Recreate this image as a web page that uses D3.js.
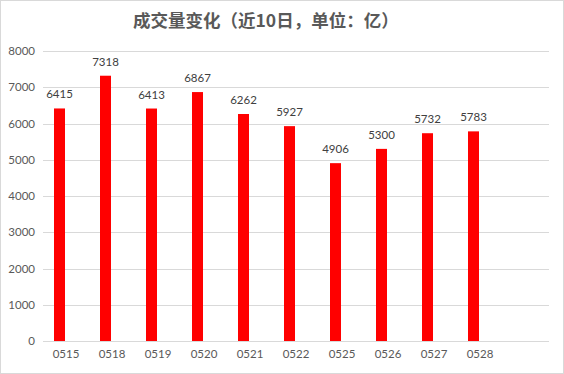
<!DOCTYPE html>
<html><head><meta charset="utf-8">
<script src="https://cdn.jsdelivr.net/npm/d3@7"></script>
<style>body{margin:0;background:#fff}svg{display:block}</style>
</head><body>
<script>
const categories = ["0515","0518","0519","0520","0521","0522","0525","0526","0527","0528"];
const values = [6415,7318,6413,6867,6262,5927,4906,5300,5732,5783];
const yTicks = [0,1000,2000,3000,4000,5000,6000,7000,8000];
const title = "成交量变化（近10日，单位：亿）";

(function(){
const W = 564, H = 374;
const svg = d3.select("body").append("svg").attr("width", W).attr("height", H);
svg.append("rect").attr("x",0.5).attr("y",0.5).attr("width",W-1).attr("height",H-1)
  .attr("fill","#fff").attr("stroke","#d9d9d9");

const pLeft = 43, pRight = 549, pTop = 51, pBottom = 341;
const slots = categories.concat([""]);
const x = d3.scaleBand().domain(slots.map((d,i)=>i)).range([pLeft, pRight]);
const y = d3.scaleLinear().domain([0,8000]).range([pBottom, pTop]);
const barW = 11, barShift = -6.5;
const font = "Lato, 'Liberation Sans', sans-serif";

svg.append("text").attr("x",133).attr("y",27).text(title)
  .attr("font-family","'Noto Sans CJK SC', sans-serif").attr("font-weight","bold")
  .attr("font-size",17.5).attr("fill","#595959");

svg.append("g").selectAll("line").data(yTicks).join("line")
  .attr("x1",pLeft).attr("x2",pRight).attr("y1",d=>Math.round(y(d))+0.5).attr("y2",d=>Math.round(y(d))+0.5)
  .attr("stroke","#d9d9d9").attr("stroke-width",1);

const yAxis = d3.axisLeft(y).tickValues(yTicks).tickFormat(d3.format("d")).tickSize(0).tickPadding(8);
const gy = svg.append("g").attr("transform",`translate(${pLeft},0)`).call(yAxis);
gy.select(".domain").remove();
gy.selectAll("text").attr("font-family",font).attr("font-size",11.5).attr("fill","#595959");

const xAxis = d3.axisBottom(x).tickFormat(i=>slots[i]).tickSize(0).tickPadding(9);
const gx = svg.append("g").attr("transform",`translate(0,${pBottom})`).call(xAxis);
gx.select(".domain").remove();
gx.selectAll("text").attr("font-family",font).attr("font-size",11.5).attr("fill","#595959");

const cx = i => x(i) + x.bandwidth()/2 + barShift;
svg.append("g").selectAll("rect").data(values).join("rect")
  .attr("x",(d,i)=>cx(i)-barW/2).attr("width",barW)
  .attr("y",d=>y(d)).attr("height",d=>pBottom - y(d))
  .attr("fill","#ff0000");

svg.append("g").selectAll("text").data(values).join("text")
  .attr("x",(d,i)=>cx(i)).attr("y",d=>y(d)-10).attr("text-anchor","middle")
  .attr("font-family",font).attr("font-size",11.5).attr("fill","#404040").text(d=>d);
})();
</script>
</body></html>
